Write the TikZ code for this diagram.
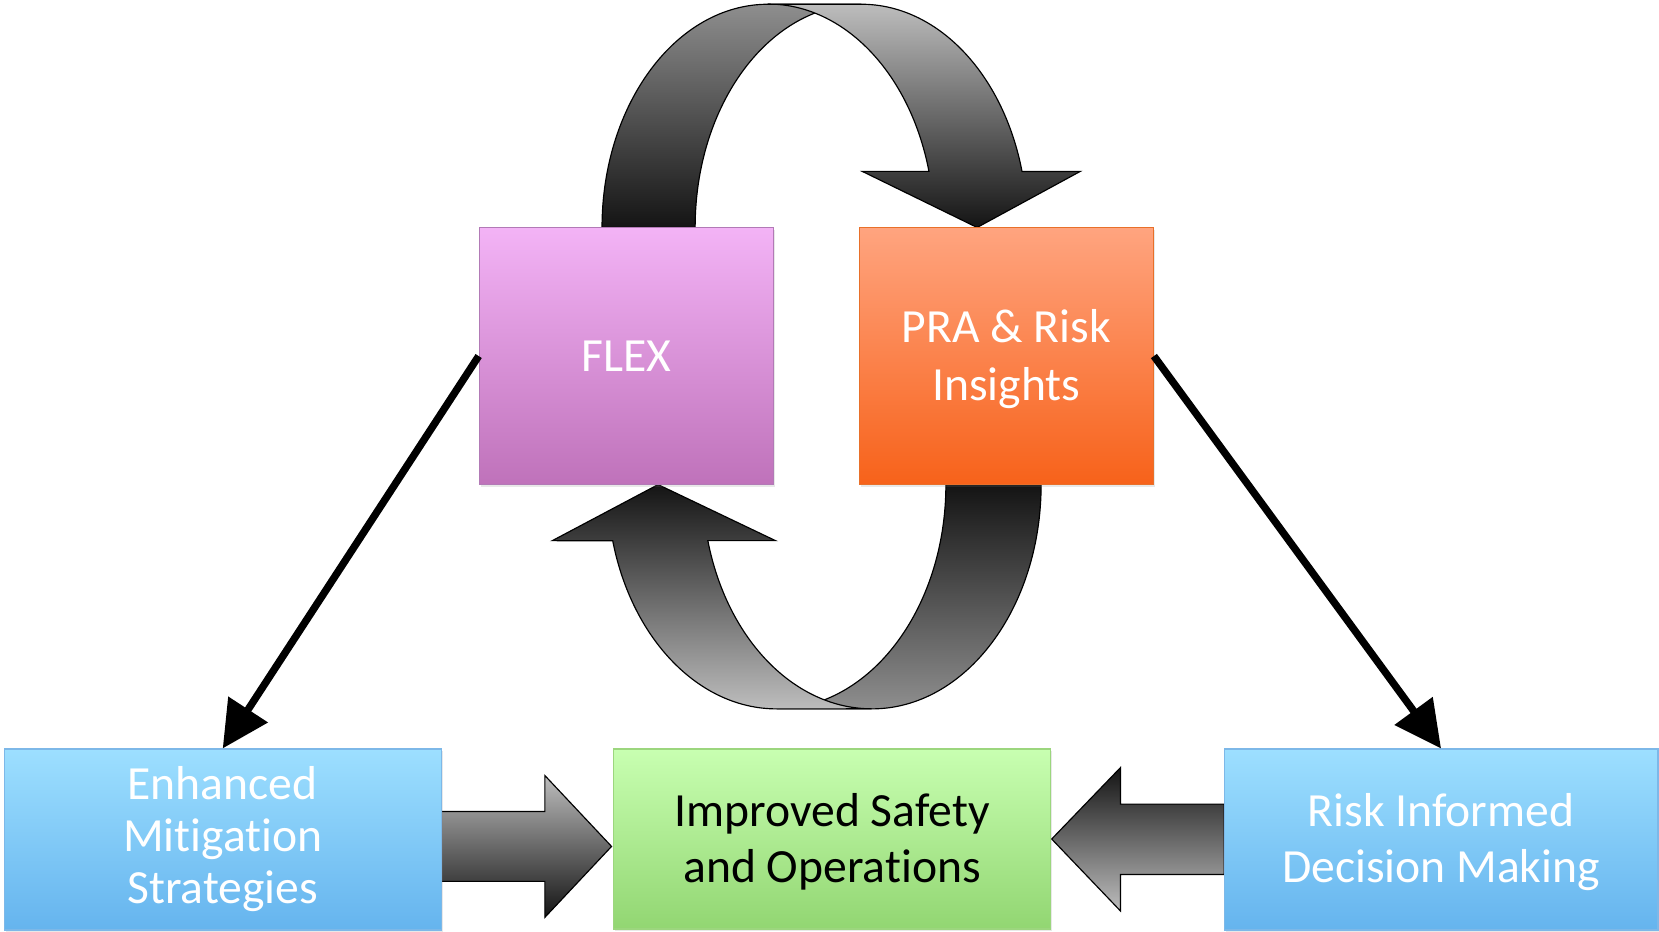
\documentclass[tikz,border=0pt]{standalone}
\usepackage{fontspec}
\setmainfont{Carlito}[Ligatures=NoCommon]
\usetikzlibrary{arrows.meta,shadows}
\definecolor{flexT}{HTML}{F3B3F6}
\definecolor{flexB}{HTML}{BF72BA}
\definecolor{flexD}{HTML}{B27AB6}
\definecolor{praT}{HTML}{FFA47F}
\definecolor{praB}{HTML}{F7621A}
\definecolor{praD}{HTML}{E8702A}
\definecolor{bluT}{HTML}{9DDFFF}
\definecolor{bluB}{HTML}{65B4EE}
\definecolor{bluD}{HTML}{7DB8E8}
\definecolor{grnT}{HTML}{C8FFB1}
\definecolor{grnB}{HTML}{92D672}
\definecolor{grnD}{HTML}{9CD67E}
\definecolor{gLight}{HTML}{BDBDBD}
\definecolor{gMid}{HTML}{8E8E8E}
\definecolor{gDark}{HTML}{141414}
\begin{document}
\begin{tikzpicture}[x=1pt,y=1pt,
  box/.style={rectangle, inner sep=0pt, line width=1.2pt,
    drop shadow={shadow xshift=1.5pt, shadow yshift=-2pt, opacity=0.18}},
  txt/.style={anchor=base, inner sep=0pt, font=\fontsize{45}{53}\selectfont},
  bandL/.style={draw=black, line width=1.1pt, top color=gLight, bottom color=gDark},
  bandD/.style={draw=black, line width=1.1pt, top color=gMid, bottom color=gDark},
  bandLU/.style={draw=black, line width=1.1pt, top color=gDark, bottom color=gLight},
  bandDU/.style={draw=black, line width=1.1pt, top color=gDark, bottom color=gMid},
  link/.style={line width=7pt, -{Triangle[length=44pt,width=43pt]}}
]
\useasboundingbox (0,0) rectangle (1568,-880);
\fill[white] (0,0) rectangle (1568,-880);

% ---------- upper curved arrow (FLEX -> PRA) ----------
% tail band (behind)
\path[bandD] (569,-215) arc[start angle=180, end angle=90, x radius=157, y radius=211]
  -- (814,-4) arc[start angle=90, end angle=180, x radius=157, y radius=211] -- cycle;
% head band (front)
\path[bandL] (726,-4) -- (814,-4)
  arc[start angle=90, end angle=14.5, x radius=157, y radius=211]
  -- (1021,-162) -- (923.5,-215) -- (815,-162) -- (878,-162)
  arc[start angle=14.5, end angle=90, x radius=157, y radius=211] -- cycle;

% ---------- lower curved arrow (PRA -> FLEX) ----------
% tail band (behind)
\path[bandDU] (984,-458) arc[start angle=0, end angle=-90, x radius=160, y radius=212]
  -- (734,-670) arc[start angle=-90, end angle=0, x radius=160, y radius=212] -- cycle;
% head band (front)
\path[bandLU] (734,-670) arc[start angle=270, end angle=194.5, x radius=160, y radius=212]
  -- (522,-511) -- (622,-458) -- (733,-511) -- (669,-511)
  arc[start angle=194.5, end angle=270, x radius=160, y radius=212] -- cycle;

% ---------- block arrows ----------
\path[draw=black, line width=1.1pt, top color=gLight, bottom color=gDark]
  (417,-767) -- (515,-767) -- (515,-733) -- (578,-800) -- (515,-867) -- (515,-833) -- (417,-833) -- cycle;
\path[draw=black, line width=1.1pt, top color=gDark, bottom color=gLight]
  (1157,-760) -- (1059,-760) -- (1059,-725.5) -- (994,-793) -- (1059,-861) -- (1059,-826.5) -- (1157,-826.5) -- cycle;

% ---------- boxes ----------
\node[box, draw=flexD, top color=flexT, bottom color=flexB, minimum width=278pt, minimum height=243pt] (flex) at (592,-336.5) {};
\node[box, draw=praD, top color=praT, bottom color=praB, minimum width=278pt, minimum height=243pt] (pra) at (951,-336.5) {};
\node[box, draw=bluD, top color=bluT, bottom color=bluB, minimum width=413pt, minimum height=171pt] (enh) at (210.5,-793.5) {};
\node[box, draw=grnD, top color=grnT, bottom color=grnB, minimum width=413pt, minimum height=170pt] (imp) at (786.5,-793) {};
\node[box, draw=bluD, top color=bluT, bottom color=bluB, minimum width=410pt, minimum height=171pt] (risk) at (1362,-793.5) {};

% ---------- texts ----------
\node[txt, text=white] (flexA) at (592,-351) {FLEX};
\node[txt, text=white] (praA) at (951,-324) {PRA \& Risk};
\node[txt, text=white] (praB) at (951,-379) {Insights};
\node[txt, text=white] (enhA) at (210.5,-756) {Enhanced};
\node[txt, text=white] (enhB) at (210.5,-805) {Mitigation};
\node[txt, text=white] (enhC) at (210.5,-854) {Strategies};
\node[txt, text=black] (impA) at (786.5,-781) {Improved Safety};
\node[txt, text=black] (impB) at (786.5,-834) {and Operations};
\node[txt, text=white] (riskA) at (1362,-781) {Risk Informed};
\node[txt, text=white] (riskB) at (1362,-834) {Decision Making};

% ---------- straight arrows ----------
\draw[link] (flex.west) -- (enh.north);
\draw[link] (pra.east) -- (risk.north);
\end{tikzpicture}
\end{document}
